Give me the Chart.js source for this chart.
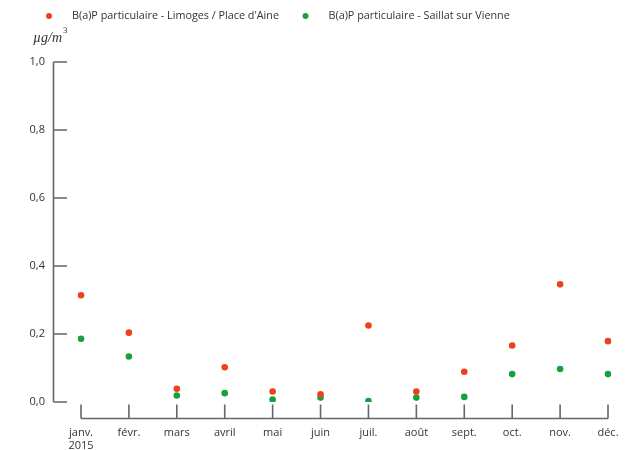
<!DOCTYPE html>
<html>
<head>
<meta charset="utf-8">
<script src="https://cdn.jsdelivr.net/npm/chart.js@4/dist/chart.umd.min.js"></script>
<style>
  html, body { margin: 0; padding: 0; background: #fff; }
  #wrap { width: 631px; height: 450px; position: relative; }
</style>
</head>
<body>
<div id="wrap"><canvas id="c" width="631" height="450"></canvas></div>
<script>
// Monthly B(a)P concentrations, 2015 (µg/m³)
const months = [['janv.', '2015'], 'févr.', 'mars', 'avril', 'mai', 'juin', 'juil.', 'août', 'sept.', 'oct.', 'nov.', 'déc.'];
const limoges = [0.314, 0.204, 0.039, 0.102, 0.031, 0.023, 0.225, 0.031, 0.089, 0.166, 0.346, 0.179];
const saillat = [0.186, 0.134, 0.019, 0.026, 0.007, 0.013, 0.003, 0.013, 0.015, 0.082, 0.097, 0.082];
const yTickLabels = ['0,0', '0,2', '0,4', '0,6', '0,8', '1,0'];
const seriesNames = ['B(a)P particulaire - Limoges / Place d\'Aine', 'B(a)P particulaire - Saillat sur Vienne'];
const unitLabel = 'µg/m';

const RED = '#ee4119';
const GREEN = '#17a03d';
const AXIS = '#666666';
const TEXT = '#333333';
const FONT = '"Open Sans", "Noto Sans", sans-serif';

// Detached axes: lines and tick marks drawn from the scale positions
const detachedAxes = {
  id: 'detachedAxes',
  afterDraw(chart) {
    const ctx = chart.ctx;
    const x = chart.scales.x, y = chart.scales.y;
    const area = chart.chartArea;
    ctx.save();
    ctx.strokeStyle = AXIS;
    ctx.lineWidth = 1.6;
    // y axis
    const yx = area.left - 27.5;
    const yTop = y.getPixelForValue(1), yBot = y.getPixelForValue(0);
    ctx.beginPath();
    ctx.moveTo(yx, yTop);
    ctx.lineTo(yx, yBot);
    y.ticks.forEach(t => {
      const py = y.getPixelForValue(t.value);
      ctx.moveTo(yx, py);
      ctx.lineTo(yx + 13.5, py);
    });
    ctx.stroke();
    // x axis
    const xy = area.bottom + 16.5;
    const xl = x.getPixelForValue(0), xr = x.getPixelForValue(months.length - 1);
    ctx.beginPath();
    ctx.moveTo(xl, xy);
    ctx.lineTo(xr, xy);
    months.forEach((m, i) => {
      const px = x.getPixelForValue(i);
      ctx.moveTo(px, xy);
      ctx.lineTo(px, xy - 14);
    });
    ctx.stroke();

    // legend
    ctx.textBaseline = 'middle';
    ctx.textAlign = 'left';
    ctx.font = '10.8px ' + FONT;
    const legendX = [49, 305.5];
    chart.data.datasets.forEach((ds, i) => {
      ctx.fillStyle = ds.pointBackgroundColor;
      ctx.beginPath();
      ctx.arc(legendX[i], 16, 3, 0, Math.PI * 2);
      ctx.fill();
      ctx.fillStyle = TEXT;
      ctx.fillText(ds.label, legendX[i] + 23, 16);
    });

    // unit
    ctx.fillStyle = TEXT;
    ctx.textBaseline = 'alphabetic';
    ctx.font = 'italic 14px "Liberation Serif", "DejaVu Serif", serif';
    ctx.fillText(unitLabel, 33, 42);
    const w = ctx.measureText(unitLabel).width;
    ctx.font = '9px "Liberation Serif", "DejaVu Serif", serif';
    ctx.fillText('3', 33 + w + 1, 33);
    ctx.restore();
  }
};

new Chart(document.getElementById('c'), {
  type: 'line',
  data: {
    labels: months,
    datasets: [
      {
        label: seriesNames[0],
        data: limoges,
        showLine: false,
        pointRadius: 3.3,
        pointHoverRadius: 3.3,
        pointBorderWidth: 0,
        pointBackgroundColor: RED,
        borderColor: RED
      },
      {
        label: seriesNames[1],
        data: saillat,
        showLine: false,
        pointRadius: 3.3,
        pointHoverRadius: 3.3,
        pointBorderWidth: 0,
        pointBackgroundColor: GREEN,
        borderColor: GREEN
      }
    ]
  },
  options: {
    responsive: false,
    animation: false,
    events: [],
    layout: { padding: { top: 62, right: 23, left: 0, bottom: 0 } },
    plugins: {
      legend: { display: false },
      tooltip: { enabled: false }
    },
    scales: {
      x: {
        offset: false,
        grid: { display: false, drawTicks: true, tickLength: 22 },
        border: { display: false },
        ticks: {
          color: TEXT,
          font: { family: FONT, size: 11 },
          padding: 2,
          maxRotation: 0,
          autoSkip: false
        },
        afterFit(s) { s.height = 48; }
      },
      y: {
        min: 0,
        max: 1,
        grid: { display: false, drawTicks: false },
        border: { display: false },
        ticks: {
          stepSize: 0.2,
          color: TEXT,
          font: { family: FONT, size: 11 },
          padding: 36,
          callback: (v, i) => yTickLabels[i]
        },
        afterFit(s) { s.width = 81; }
      }
    }
  },
  plugins: [detachedAxes]
});
</script>
</body>
</html>
